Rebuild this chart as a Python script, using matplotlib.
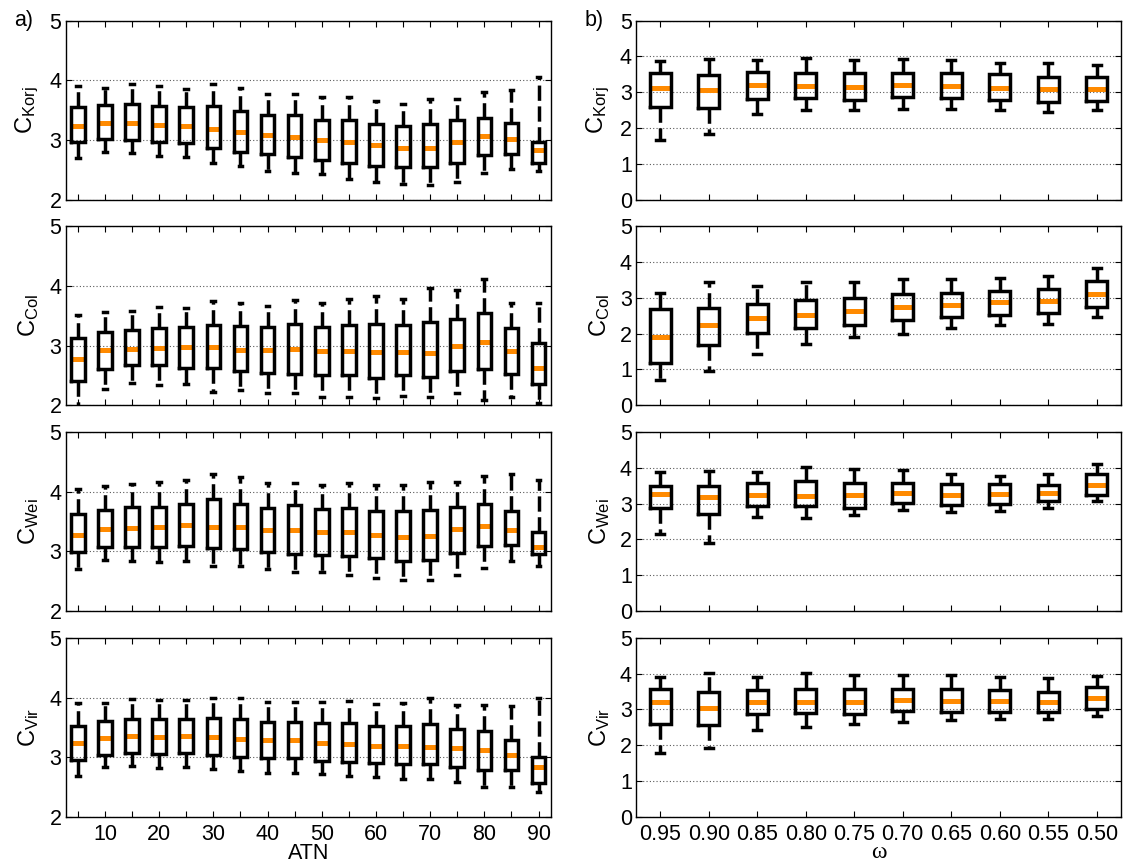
import numpy as np
import matplotlib
matplotlib.use('Agg')
import matplotlib.pyplot as plt

plt.rcParams['font.family'] = ['Liberation Sans', 'DejaVu Sans']
plt.rcParams['mathtext.default'] = 'regular'
plt.rcParams['lines.scale_dashes'] = False

# --- x categories ---
ATN = [5, 10, 15, 20, 25, 30, 35, 40, 45, 50, 55, 60, 65, 70, 75, 80, 85, 90]
OMEGA = ['0.95', '0.90', '0.85', '0.80', '0.75', '0.70', '0.65', '0.60', '0.55', '0.50']

# --- a) ATN sweep: lower whisker, Q1, median, Q3, upper whisker ---
korj_atn_lo = [2.70, 2.80, 2.78, 2.73, 2.71, 2.61, 2.57, 2.48, 2.44, 2.42, 2.34, 2.29, 2.26, 2.25, 2.29, 2.44, 2.51, 2.48]
korj_atn_q1 = [2.96, 3.01, 3.00, 2.96, 2.94, 2.86, 2.80, 2.76, 2.72, 2.66, 2.61, 2.57, 2.54, 2.54, 2.62, 2.74, 2.77, 2.61]
korj_atn_med = [3.24, 3.29, 3.29, 3.25, 3.24, 3.18, 3.13, 3.08, 3.05, 3.00, 2.97, 2.91, 2.86, 2.87, 2.97, 3.06, 3.01, 2.83]
korj_atn_q3 = [3.55, 3.58, 3.60, 3.57, 3.55, 3.57, 3.49, 3.42, 3.42, 3.34, 3.33, 3.27, 3.24, 3.26, 3.33, 3.37, 3.29, 2.97]
korj_atn_hi = [3.91, 3.87, 3.93, 3.91, 3.85, 3.93, 3.87, 3.77, 3.77, 3.72, 3.72, 3.66, 3.61, 3.68, 3.69, 3.81, 3.84, 4.05]

col_atn_lo = [1.90, 2.28, 2.37, 2.34, 2.36, 2.22, 2.25, 2.21, 2.21, 2.14, 2.14, 2.12, 2.16, 2.13, 2.21, 2.08, 2.14, 2.03]
col_atn_q1 = [2.41, 2.61, 2.67, 2.67, 2.63, 2.62, 2.57, 2.54, 2.53, 2.51, 2.51, 2.45, 2.51, 2.48, 2.58, 2.61, 2.52, 2.36]
col_atn_med = [2.78, 2.92, 2.94, 2.96, 2.98, 2.97, 2.93, 2.93, 2.94, 2.91, 2.91, 2.89, 2.89, 2.87, 2.99, 3.06, 2.91, 2.62]
col_atn_q3 = [3.12, 3.22, 3.27, 3.29, 3.32, 3.35, 3.33, 3.31, 3.36, 3.32, 3.34, 3.36, 3.34, 3.39, 3.45, 3.55, 3.30, 3.05]
col_atn_hi = [3.51, 3.56, 3.58, 3.65, 3.63, 3.75, 3.71, 3.67, 3.77, 3.71, 3.78, 3.84, 3.78, 3.96, 3.94, 4.11, 3.71, 3.72]

wei_atn_lo = [2.71, 2.85, 2.84, 2.82, 2.84, 2.76, 2.75, 2.70, 2.66, 2.65, 2.60, 2.55, 2.52, 2.52, 2.61, 2.72, 2.84, 2.76]
wei_atn_q1 = [2.98, 3.08, 3.07, 3.07, 3.09, 3.06, 3.04, 2.99, 2.96, 2.94, 2.92, 2.89, 2.84, 2.85, 2.97, 3.09, 3.10, 2.95]
wei_atn_med = [3.27, 3.38, 3.39, 3.40, 3.44, 3.41, 3.40, 3.36, 3.36, 3.32, 3.32, 3.27, 3.24, 3.26, 3.38, 3.42, 3.36, 3.08]
wei_atn_q3 = [3.63, 3.70, 3.74, 3.74, 3.80, 3.87, 3.80, 3.73, 3.78, 3.71, 3.73, 3.67, 3.67, 3.70, 3.75, 3.79, 3.68, 3.32]
wei_atn_hi = [4.05, 4.10, 4.13, 4.16, 4.19, 4.29, 4.25, 4.15, 4.14, 4.11, 4.15, 4.11, 4.11, 4.17, 4.17, 4.27, 4.30, 4.20]

vir_atn_lo = [2.69, 2.84, 2.85, 2.82, 2.84, 2.80, 2.77, 2.73, 2.73, 2.72, 2.68, 2.67, 2.64, 2.63, 2.59, 2.49, 2.49, 2.42]
vir_atn_q1 = [2.95, 3.04, 3.07, 3.06, 3.07, 3.03, 3.01, 2.98, 2.98, 2.94, 2.91, 2.90, 2.89, 2.89, 2.83, 2.78, 2.78, 2.57]
vir_atn_med = [3.24, 3.32, 3.35, 3.34, 3.35, 3.34, 3.30, 3.28, 3.28, 3.23, 3.22, 3.19, 3.18, 3.17, 3.15, 3.12, 3.04, 2.84]
vir_atn_q3 = [3.53, 3.61, 3.64, 3.64, 3.64, 3.66, 3.64, 3.59, 3.59, 3.57, 3.57, 3.52, 3.53, 3.55, 3.47, 3.43, 3.29, 3.01]
vir_atn_hi = [3.91, 3.91, 3.97, 3.95, 3.95, 4.00, 4.00, 3.92, 3.92, 3.92, 3.94, 3.89, 3.91, 3.99, 3.88, 3.87, 3.85, 4.00]

# --- b) omega sweep ---
korj_om_lo = [1.66, 1.84, 2.40, 2.50, 2.51, 2.54, 2.54, 2.50, 2.45, 2.49]
korj_om_q1 = [2.60, 2.55, 2.81, 2.85, 2.79, 2.86, 2.83, 2.79, 2.74, 2.76]
korj_om_med = [3.11, 3.05, 3.19, 3.17, 3.15, 3.20, 3.17, 3.12, 3.08, 3.08]
korj_om_q3 = [3.55, 3.47, 3.57, 3.55, 3.55, 3.55, 3.53, 3.50, 3.43, 3.43]
korj_om_hi = [3.87, 3.94, 3.91, 3.95, 3.91, 3.92, 3.90, 3.83, 3.81, 3.75]

col_om_lo = [0.71, 0.96, 1.44, 1.71, 1.91, 1.99, 2.16, 2.25, 2.28, 2.46]
col_om_q1 = [1.18, 1.68, 2.01, 2.15, 2.24, 2.38, 2.46, 2.52, 2.57, 2.75]
col_om_med = [1.90, 2.25, 2.43, 2.53, 2.63, 2.76, 2.81, 2.88, 2.91, 3.11]
col_om_q3 = [2.69, 2.72, 2.83, 2.94, 3.01, 3.11, 3.15, 3.20, 3.24, 3.48]
col_om_hi = [3.13, 3.44, 3.32, 3.44, 3.44, 3.53, 3.53, 3.57, 3.61, 3.84]

wei_om_lo = [2.15, 1.90, 2.63, 2.59, 2.68, 2.81, 2.77, 2.80, 2.88, 3.06]
wei_om_q1 = [2.87, 2.71, 2.92, 2.93, 2.89, 3.03, 2.96, 2.99, 3.06, 3.23]
wei_om_med = [3.26, 3.18, 3.25, 3.20, 3.23, 3.31, 3.25, 3.27, 3.31, 3.53]
wei_om_q3 = [3.50, 3.48, 3.58, 3.62, 3.59, 3.59, 3.55, 3.55, 3.53, 3.83]
wei_om_hi = [3.88, 3.92, 3.88, 4.02, 3.97, 3.93, 3.84, 3.77, 3.84, 4.12]

vir_om_lo = [1.78, 1.91, 2.43, 2.51, 2.60, 2.65, 2.70, 2.73, 2.73, 2.81]
vir_om_q1 = [2.60, 2.57, 2.86, 2.89, 2.87, 2.95, 2.94, 2.94, 2.93, 3.02]
vir_om_med = [3.20, 3.04, 3.20, 3.20, 3.20, 3.26, 3.24, 3.24, 3.20, 3.31]
vir_om_q3 = [3.56, 3.48, 3.54, 3.56, 3.56, 3.58, 3.56, 3.54, 3.50, 3.62]
vir_om_hi = [3.91, 4.01, 3.91, 4.01, 3.95, 3.97, 3.97, 3.92, 3.89, 3.94]

YLABELS = ['Korj', 'Col', 'Wei', 'Vir']

atn_sets = [
    (korj_atn_lo, korj_atn_q1, korj_atn_med, korj_atn_q3, korj_atn_hi),
    (col_atn_lo, col_atn_q1, col_atn_med, col_atn_q3, col_atn_hi),
    (wei_atn_lo, wei_atn_q1, wei_atn_med, wei_atn_q3, wei_atn_hi),
    (vir_atn_lo, vir_atn_q1, vir_atn_med, vir_atn_q3, vir_atn_hi),
]
om_sets = [
    (korj_om_lo, korj_om_q1, korj_om_med, korj_om_q3, korj_om_hi),
    (col_om_lo, col_om_q1, col_om_med, col_om_q3, col_om_hi),
    (wei_om_lo, wei_om_q1, wei_om_med, wei_om_q3, wei_om_hi),
    (vir_om_lo, vir_om_q1, vir_om_med, vir_om_q3, vir_om_hi),
]

TICK_FS = 15.5
LABEL_FS = 17


def make_stats(lo, q1, med, q3, hi):
    return [dict(whislo=a, q1=b, med=c, q3=d, whishi=e, fliers=[])
            for a, b, c, d, e in zip(lo, q1, med, q3, hi)]


def draw_boxes(ax, stats, positions, width, capwidth):
    ax.bxp(stats, positions=positions, widths=width, capwidths=capwidth,
           showfliers=False, manage_ticks=False,
           boxprops=dict(color='k', linewidth=2.5, solid_joinstyle='miter', zorder=3),
           whiskerprops=dict(color='k', linewidth=2.5, linestyle=(0, (11, 4)), zorder=3),
           capprops=dict(color='k', linewidth=2.5, zorder=3),
           medianprops=dict(color='#ff8a00', linewidth=3.6, solid_capstyle='butt', zorder=2.5))


def style_axes(ax):
    ax.set_axisbelow(True)
    ax.yaxis.grid(True, linestyle=(0, (0.8, 1.6)), color='0.35', linewidth=0.8)
    ax.tick_params(direction='in', length=4, width=0.8, top=True, right=True,
                   labelsize=TICK_FS)
    ax.tick_params(axis='y', pad=3)
    ax.tick_params(axis='x', pad=5)
    for sp in ax.spines.values():
        sp.set_linewidth(1.0)


fig = plt.figure(figsize=(11.29, 8.64), dpi=100)

W = 1129.0
H = 864.0
ax_w = 485 / W
ax_h = 178.8 / H
tops = [20.7, 226.4, 432.1, 637.9]

for i in range(4):
    bottom = (H - tops[i] - 178.8) / H

    # left column: ATN
    ax = fig.add_axes([65.7 / W, bottom, ax_w, ax_h])
    draw_boxes(ax, make_stats(*atn_sets[i]), ATN, 2.5, 0.7)
    style_axes(ax)
    ax.set_xlim(2.75, 92.25)
    ax.set_ylim(2, 5)
    ax.set_yticks([2, 3, 4, 5])
    ax.set_xticks(ATN)
    if i == 3:
        ax.set_xticklabels([str(a) if a % 10 == 0 else '' for a in ATN])
        ax.set_xlabel('ATN', fontsize=TICK_FS, labelpad=-1)
    else:
        ax.set_xticklabels([])
    ax.set_ylabel(r'C$_{\mathregular{%s}}$' % YLABELS[i], fontsize=LABEL_FS)
    ax.yaxis.set_label_coords(-0.05, 0.5)

    # right column: omega
    ax = fig.add_axes([636 / W, bottom, ax_w, ax_h])
    pos = np.arange(1, len(OMEGA) + 1)
    draw_boxes(ax, make_stats(*om_sets[i]), pos, 0.43, 0.17)
    style_axes(ax)
    ax.set_xlim(0.5, len(OMEGA) + 0.5)
    ax.set_ylim(0, 5)
    ax.set_yticks([0, 1, 2, 3, 4, 5])
    ax.set_xticks(pos)
    if i == 3:
        ax.set_xticklabels(OMEGA)
        ax.set_xlabel('ω', fontsize=LABEL_FS, labelpad=-2, family='Liberation Serif')
    else:
        ax.set_xticklabels([])
    ax.set_ylabel(r'C$_{\mathregular{%s}}$' % YLABELS[i], fontsize=LABEL_FS)
    ax.yaxis.set_label_coords(-0.05, 0.5)

fig.text(14 / W, 1 - 10 / H, 'a)', fontsize=TICK_FS, va='top', ha='left')
fig.text(585 / W, 1 - 10 / H, 'b)', fontsize=TICK_FS, va='top', ha='left')

fig.savefig('out.png', dpi=100)
